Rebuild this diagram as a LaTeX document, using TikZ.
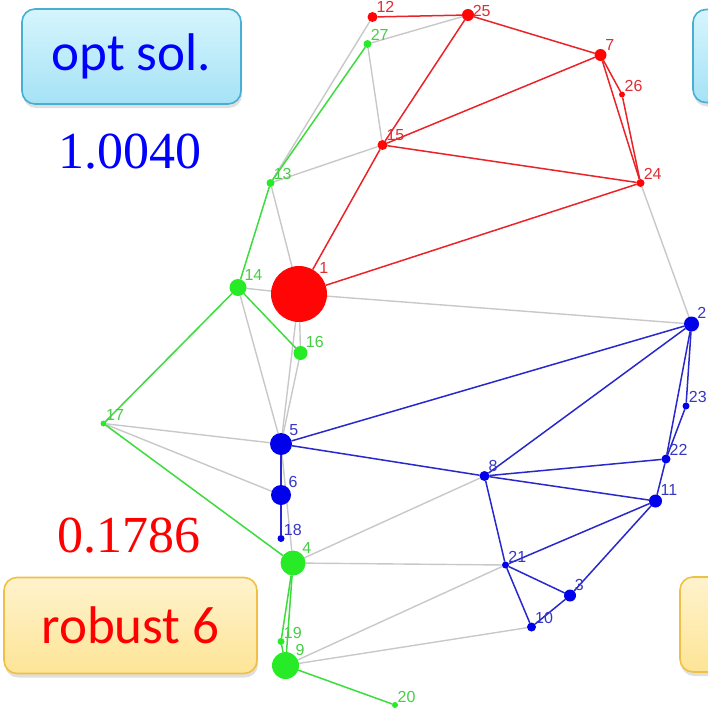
\documentclass[tikz,border=0pt]{standalone}
\usepackage{fontspec}
\newfontfamily\boxfont{Carlito}
\newfontfamily\numfont{Liberation Serif}
\newfontfamily\lblfont{Liberation Sans}
\usetikzlibrary{backgrounds,shadows}

\definecolor{nred}{RGB}{255,5,5}
\definecolor{ered}{RGB}{235,35,40}
\definecolor{lred}{RGB}{225,45,50}
\definecolor{ngreen}{RGB}{40,235,40}
\definecolor{egreen}{RGB}{60,220,60}
\definecolor{lgreen}{RGB}{70,205,70}
\definecolor{nblue}{RGB}{0,0,235}
\definecolor{eblue}{RGB}{40,40,205}
\definecolor{lblue}{RGB}{55,55,195}
\definecolor{egray}{RGB}{200,200,200}
\definecolor{cyantop}{RGB}{214,245,253}
\definecolor{cyanbot}{RGB}{165,226,246}
\definecolor{cyanrim}{RGB}{72,175,210}
\definecolor{yeltop}{RGB}{255,243,205}
\definecolor{yelbot}{RGB}{253,228,150}
\definecolor{yelrim}{RGB}{240,192,70}

\tikzset{
  vtx/.style={circle, inner sep=0pt, outer sep=0pt, minimum size=#1},
  vr/.style={vtx=#1, fill=nred},
  vg/.style={vtx=#1, fill=ngreen},
  vb/.style={vtx=#1, fill=nblue},
  lbl/.style={font=\lblfont\fontsize{16}{16}\selectfont, inner sep=0.3pt, anchor=south west},
  lr/.style={lbl, text=lred},
  lg/.style={lbl, text=lgreen},
  lb/.style={lbl, text=lblue},
  eg/.style={draw=egray, line width=1.4pt},
  er/.style={draw=ered, line width=1.5pt},
  egr/.style={draw=egreen, line width=1.5pt},
  eb/.style={draw=eblue, line width=1.5pt},
  panel/.style={rounded corners=13pt, line width=1.6pt, inner sep=0pt,
    drop shadow={opacity=0.25, shadow xshift=1pt, shadow yshift=-4pt}},
  cyanpanel/.style={panel, draw=cyanrim, top color=cyantop, bottom color=cyanbot},
  yelpanel/.style={panel, draw=yelrim, top color=yeltop, bottom color=yelbot},
  boxtxt/.style={font=\boxfont\fontsize{53}{53}\selectfont},
  numtxt/.style={font=\numfont\fontsize{52}{52}\selectfont, inner sep=0pt},
}

\begin{document}
\begin{tikzpicture}[x=1pt,y=-1pt]
\useasboundingbox (0,0) rectangle (708,717);
\clip (0,0) rectangle (708,717);

% caption panels
\node[cyanpanel, minimum width=219pt, minimum height=95pt, boxtxt, text=blue] (optbox) at (131.5,56.5) {opt sol.};
\node[cyanpanel, minimum width=110pt, minimum height=93pt] (optboxR) at (748,56) {};
\node[yelpanel, minimum width=253pt, minimum height=96pt, boxtxt, text=red] (robbox) at (130.5,625.5) {robust 6};
\node[yelpanel, minimum width=110pt, minimum height=95pt] (robboxR) at (735,624.5) {};

\node[numtxt, text=blue] (optval) at (130,152) {1.0040};
\node[numtxt, text=red] (robval) at (129,536) {0.1786};

% vertices
\node[vr=56, label={[lr]north east:1}] (n1) at (299,294) {};
\node[vb=15, label={[lb]north east:2}] (n2) at (691.5,324) {};
\node[vb=12, label={[lb]north east:3}] (n3) at (570,595.5) {};
\node[vg=25, label={[lg]north east:4}] (n4) at (293,563) {};
\node[vb=22, label={[lb]north east:5}] (n5) at (281,444) {};
\node[vb=20, label={[lb]north east:6}] (n6) at (281,495) {};
\node[vr=12, label={[lr]north east:7}] (n7) at (600.5,55) {};
\node[vb=10, label={[lb]north east:8}] (n8) at (484.5,476) {};
\node[vg=27, label={[lg]north east:9}] (n9) at (285.5,665.5) {};
\node[vb=9, label={[lb]north east:10}] (n10) at (531.5,627) {};
\node[vb=13, label={[lb]north east:11}] (n11) at (655.5,501) {};
\node[vr=10, label={[lr]north east:12}] (n12) at (372.5,17) {};
\node[vg=8, label={[lg]north east:13}] (n13) at (270.5,183) {};
\node[vg=17, label={[lg]north east:14}] (n14) at (238,287.5) {};
\node[vr=10, label={[lr]north east:15}] (n15) at (382.5,145) {};
\node[vg=14, label={[lg]north east:16}] (n16) at (300.5,353) {};
\node[vg=6, label={[lg]north east:17}] (n17) at (103.5,423.5) {};
\node[vb=7, label={[lb]north east:18}] (n18) at (281,538.5) {};
\node[vg=7, label={[lg]north east:19}] (n19) at (281,641.5) {};
\node[vg=6, label={[lg]north east:20}] (n20) at (395,705) {};
\node[vb=7, label={[lb]north east:21}] (n21) at (505.5,565) {};
\node[vb=9, label={[lb]north east:22}] (n22) at (666,459) {};
\node[vb=7, label={[lb]north east:23}] (n23) at (686,406) {};
\node[vr=8, label={[lr]north east:24}] (n24) at (640.5,183) {};
\node[vr=12, label={[lr, anchor=west]north east:25}] (n25) at (468,15) {};
\node[vr=6, label={[lr]north east:26}] (n26) at (622,94.5) {};
\node[vg=8, label={[lg]north east:27}] (n27) at (367.5,44) {};

\begin{scope}[on background layer]
% unused links
\path[eg] (n12) -- (n13);
\path[eg] (n27) -- (n25);
\path[eg] (n27) -- (n15);
\path[eg] (n13) -- (n15);
\path[eg] (n13) -- (n1);
\path[eg] (n14) -- (n1);
\path[eg] (n1) -- (n2);
\path[eg] (n24) -- (n2);
\path[eg] (n14) -- (n5);
\path[eg] (n1) -- (n16);
\path[eg] (n1) -- (n5);
\path[eg] (n16) -- (n5);
\path[eg] (n17) -- (n5);
\path[eg] (n17) -- (n6);
\path[eg] (n5) -- (n4);
\path[eg] (n4) -- (n8);
\path[eg] (n4) -- (n21);
\path[eg] (n9) -- (n21);
\path[eg] (n9) -- (n10);
% red group
\path[er] (n12) -- (n25);
\path[er] (n25) -- (n7);
\path[er] (n25) -- (n15);
\path[er] (n7) -- (n15);
\path[er] (n7) -- (n26);
\path[er] (n7) -- (n24);
\path[er] (n26) -- (n24);
\path[er] (n15) -- (n24);
\path[er] (n15) -- (n1);
\path[er] (n1) -- (n24);
% green group
\path[egr] (n27) -- (n13);
\path[egr] (n13) -- (n14);
\path[egr] (n14) -- (n16);
\path[egr] (n14) -- (n17);
\path[egr] (n17) -- (n4);
\path[egr] (n4) -- (n19);
\path[egr] (n4) -- (n9);
\path[egr] (n19) -- (n9);
\path[egr] (n9) -- (n20);
% blue group
\path[eb] (n5) -- (n2);
\path[eb] (n5) -- (n8);
\path[eb] (n5) -- (n6);
\path[eb] (n6) -- (n18);
\path[eb] (n2) -- (n8);
\path[eb] (n2) -- (n22);
\path[eb] (n2) -- (n23);
\path[eb] (n23) -- (n22);
\path[eb] (n8) -- (n22);
\path[eb] (n8) -- (n11);
\path[eb] (n22) -- (n11);
\path[eb] (n8) -- (n21);
\path[eb] (n11) -- (n21);
\path[eb] (n11) -- (n3);
\path[eb] (n21) -- (n3);
\path[eb] (n21) -- (n10);
\path[eb] (n10) -- (n3);
\end{scope}
\end{tikzpicture}
\end{document}
